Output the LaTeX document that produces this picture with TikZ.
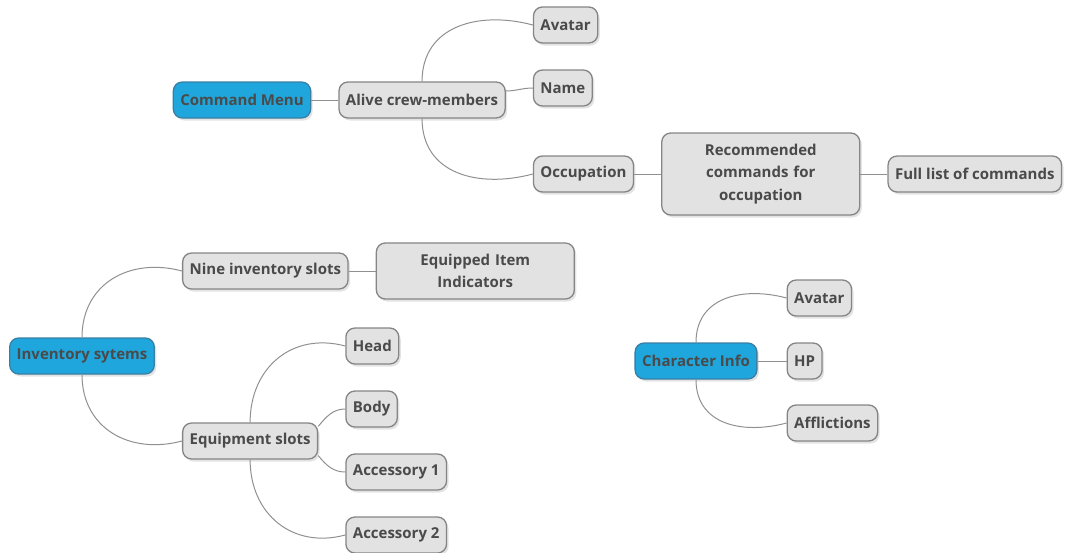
\documentclass[tikz,border=0pt]{standalone}
\usepackage{fontspec}
\setmainfont{Open Sans}
\usepackage{tikz}
\usetikzlibrary{positioning, shadows, calc}
\definecolor{rootblue}{HTML}{1FA7DD}
\definecolor{rootedge}{HTML}{3A7FA3}
\definecolor{leafgray}{HTML}{E2E2E2}
\definecolor{leafedge}{HTML}{858585}
\definecolor{linkgray}{HTML}{909090}
\definecolor{labelgray}{HTML}{4A4A4A}

\begin{document}
\begin{tikzpicture}[x=1pt, y=1pt, node distance=27pt]
                    \tikzstyle{leaf} = [rectangle, draw=leafedge, line width=1.3pt, fill=leafgray, text=labelgray, rounded corners=9pt, minimum height=36pt, inner xsep=7pt, inner ysep=8pt, font=\fontsize{15}{22.5}\selectfont\bfseries, drop shadow={shadow xshift=2pt, shadow yshift=-2.5pt, opacity=0.22}]
                    \tikzstyle{root} = [leaf, fill=rootblue, draw=rootedge]
                    \tikzstyle{wide} = [leaf, text width=184pt, align=center, inner ysep=11pt]
                    \tikzstyle{link} = [line width=1pt, color=linkgray]
                    \tikzstyle{upbranch} = [out=90, in=165, looseness=1.15]
                    \tikzstyle{downbranch} = [out=-90, in=195, looseness=1.15]
                    \useasboundingbox (0,0) rectangle (1065,-552);

                    % command menu
                    \node (cmdmenu) [root] at (242,-100) {Command Menu};
                    \node (alive) [leaf, right=of cmdmenu] {Alive crew-members};
                    \node (avatara) [leaf, right=of alive, yshift=75pt] {Avatar};
                    \node (name) [leaf, right=of alive, yshift=12pt] {Name};
                    \node (occupation) [leaf, right=of alive, yshift=-74pt] {Occupation};
                    \node (recommended) [wide, right=of occupation] {Recommended\\ commands for\\ occupation};
                    \node (fulllist) [leaf, right=of recommended] {Full list of commands};

                    % inventory
                    \node (inventory) [root] at (82,-356) {Inventory sytems};
                    \node (nineslots) [leaf, right=of inventory, yshift=85pt] {Nine inventory slots};
                    \node (indicators) [wide, right=of nineslots] {Equipped Item\\ Indicators};
                    \node (equipslots) [leaf, right=of inventory, yshift=-85pt] {Equipment slots};
                    \node (head) [leaf, right=of equipslots, yshift=95pt] {Head};
                    \node (body) [leaf, right=of equipslots, yshift=32pt] {Body};
                    \node (accone) [leaf, right=of equipslots, yshift=-31pt] {Accessory 1};
                    \node (acctwo) [leaf, right=of equipslots, yshift=-94pt] {Accessory 2};

                    % character info
                    \node (charinfo) [root] at (696,-361) {Character Info};
                    \node (avatarb) [leaf, right=29pt of charinfo, yshift=63pt] {Avatar};
                    \node (hp) [leaf, right=29pt of charinfo] {HP};
                    \node (afflictions) [leaf, right=29pt of charinfo, yshift=-62pt] {Afflictions};

                    \begin{scope}[on background layer/.try]
                    \draw [link] (cmdmenu) -- (alive);
                    \draw [link] (alive.north) to[upbranch] (avatara.west);
                    \draw [link] ([yshift=9pt]alive.east) to[out=0, in=180] (name.west);
                    \draw [link] (alive.south) to[downbranch] (occupation.west);
                    \draw [link] (occupation) -- (recommended);
                    \draw [link] (recommended) -- (fulllist);

                    \draw [link] (inventory.north) to[upbranch] (nineslots.west);
                    \draw [link] (nineslots) -- (indicators);
                    \draw [link] (inventory.south) to[downbranch] (equipslots.west);
                    \draw [link] (equipslots.north) to[upbranch] (head.west);
                    \draw [link] ([yshift=-4pt]equipslots.north east) to[out=50, in=180] (body.west);
                    \draw [link] ([yshift=4pt]equipslots.south east) to[out=-50, in=180] (accone.west);
                    \draw [link] (equipslots.south) to[downbranch] (acctwo.west);

                    \draw [link] (charinfo.north) to[upbranch] (avatarb.west);
                    \draw [link] (charinfo) -- (hp);
                    \draw [link] (charinfo.south) to[downbranch] (afflictions.west);
                    \end{scope}
                \end{tikzpicture}
\end{document}
